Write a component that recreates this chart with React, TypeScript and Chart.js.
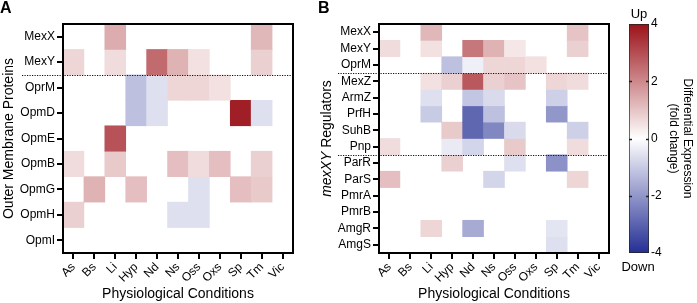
import React, { useEffect, useRef } from 'react';
import { Chart, registerables } from 'chart.js';

Chart.register(...registerables);

// ---------- data ----------
const conditions = ['As', 'Bs', 'Li', 'Hyp', 'Nd', 'Ns', 'Oss', 'Oxs', 'Sp', 'Tm', 'Vic'];
const xTitle = 'Physiological Conditions';

const rowsA = ['MexX', 'MexY', 'OprM', 'OpmD', 'OpmE', 'OpmB', 'OpmG', 'OpmH', 'OpmI'];
const rowsB = ['MexX', 'MexY', 'OprM', 'MexZ', 'ArmZ', 'PrfH', 'SuhB', 'Pnp', 'ParR', 'ParS', 'PmrA', 'PmrB', 'AmgR', 'AmgS'];

const _ = null;
// Panel A (columns follow `conditions`)
const aMexX = [_, _, 1.4, _, _, _, _, _, _, 1.2, _];
const aMexY = [0.7, _, 0.6, _, 2.5, 1.3, 0.5, _, _, 0.8, _];
const aOprM = [_, _, _, -1.2, -0.6, 0.7, 0.7, 0.5, _, _, _];
const aOpmD = [_, _, _, -1.2, -0.6, _, _, _, 3.8, -0.6, _];
const aOpmE = [_, _, 2.9, _, _, _, _, _, _, _, _];
const aOpmB = [0.6, _, 0.9, _, _, 1.1, 0.6, 1.1, _, 0.8, _];
const aOpmG = [_, 1.3, _, 1.1, _, _, -0.6, _, 1.1, 0.9, _];
const aOpmH = [0.8, _, _, _, _, -0.6, -0.6, _, _, _, _];
const aOpmI = [_, _, _, _, _, _, _, _, _, _, _];

// Panel B
const bMexX = [_, _, 1.2, _, _, _, _, _, _, 1.0, _];
const bMexY = [0.6, _, 0.5, _, 2.3, 1.3, 0.4, _, _, 0.8, _];
const bOprM = [_, _, _, -1.2, -0.3, 0.7, 0.7, 0.5, _, _, _];
const bMexZ = [_, _, 0.5, 0.8, 2.8, 0.8, 1.0, _, 0.7, 0.6, _];
const bArmZ = [_, _, -0.6, _, -1.1, -0.7, _, _, -0.9, _, _];
const bPrfH = [_, _, -1.0, _, -2.9, -1.2, _, _, -2.0, _, _];
const bSuhB = [_, _, _, 0.9, -2.9, -2.3, -0.7, _, _, -0.9, _];
const bPnp = [0.6, _, _, -0.4, -0.8, _, 0.9, _, _, 0.6, _];
const bParR = [_, _, _, 0.8, _, _, -0.6, _, -2.1, _, _];
const bParS = [1.1, _, _, _, _, -0.8, _, _, _, 0.7, _];
const bPmrA = [_, _, _, _, _, _, _, _, _, _, _];
const bPmrB = [_, _, _, _, _, _, _, _, _, _, _];
const bAmgR = [_, _, 0.7, _, -1.6, _, _, _, -0.5, _, _];
const bAmgS = [_, _, _, _, _, _, _, _, -0.6, _, _];

const valuesA = [aMexX, aMexY, aOprM, aOpmD, aOpmE, aOpmB, aOpmG, aOpmH, aOpmI];
const valuesB = [bMexX, bMexY, bOprM, bMexZ, bArmZ, bPrfH, bSuhB, bPnp, bParR, bParS, bPmrA, bPmrB, bAmgR, bAmgS];

// row boundaries marked by dotted separators
const separatorsA = [1.5];
const separatorsB = [2.5, 7.5];

// colour bar
const colorMin = -4;
const colorMax = 4;
const colorbarStep = 2;
const colorbarTitle = ['Differential Expression', '(fold change)'];
const upLabel = 'Up';
const downLabel = 'Down';

const titleA = [{ t: 'Outer Membrane Proteins', italic: false }];
const titleB = [{ t: 'mexXY', italic: true }, { t: ' Regulators', italic: false }];

// ---------- styling ----------
const FONT = '"Liberation Sans", Arial, Helvetica, sans-serif';
const RED = [155, 18, 25];
const BLUE = [36, 46, 148];

function colorFor(v: number | null): string {
  if (v == null) return 'rgba(0,0,0,0)';
  const t = Math.min(Math.abs(v) / colorMax, 1);
  const end = v >= 0 ? RED : BLUE;
  const c = end.map((e) => Math.round(255 + (e - 255) * t));
  return `rgb(${c[0]},${c[1]},${c[2]})`;
}

type Part = { t: string; italic: boolean };

function buildHeatmap(
  canvas: HTMLCanvasElement,
  rows: string[],
  values: (number | null)[][],
  separators: number[],
  titleParts: Part[],
  areaLeft: number,
  areaRight: number,
  titleX: number
) {
  const W = canvas.width;
  const plugin = {
    id: 'heatDecor',
    afterDraw(chart: any) {
      const { ctx, chartArea: a } = chart;
      const y = chart.scales.y;
      ctx.save();
      // dotted separators
      ctx.setLineDash([1.2, 1.3]);
      ctx.lineWidth = 1.2;
      ctx.strokeStyle = '#111';
      for (const s of separators) {
        const py = Math.round(y.getPixelForValue(s)) + 0.5;
        ctx.beginPath();
        ctx.moveTo(a.left - 41, py);
        ctx.lineTo(a.right, py);
        ctx.stroke();
      }
      ctx.setLineDash([]);
      // frame
      ctx.lineWidth = 2;
      ctx.strokeStyle = '#000';
      ctx.strokeRect(a.left, a.top, a.right - a.left, a.bottom - a.top);
      // y title (mixed fonts)
      ctx.translate(titleX, (a.top + a.bottom) / 2);
      ctx.rotate(-Math.PI / 2);
      ctx.textBaseline = 'middle';
      ctx.textAlign = 'left';
      ctx.fillStyle = '#000';
      const widths = titleParts.map((p) => {
        ctx.font = `${p.italic ? 'italic ' : ''}14px ${FONT}`;
        return ctx.measureText(p.t).width;
      });
      let x = -widths.reduce((s, w) => s + w, 0) / 2;
      titleParts.forEach((p, i) => {
        ctx.font = `${p.italic ? 'italic ' : ''}14px ${FONT}`;
        ctx.fillText(p.t, x, 0);
        x += widths[i];
      });
      ctx.restore();
    },
  };

  return new Chart(canvas, {
    type: 'bar',
    data: {
      labels: conditions,
      datasets: rows.map((name, r) => ({
        label: name,
        data: values[r].map((v) => (v == null ? null : [r - 0.5, r + 0.5])) as any,
        backgroundColor: values[r].map(colorFor),
        borderWidth: 0,
        barPercentage: 1,
        categoryPercentage: 1,
        grouped: false,
      })),
    },
    options: {
      responsive: false,
      animation: false,
      events: [],
      layout: { padding: { left: 0, right: W - areaRight, top: 24, bottom: 0 } },
      plugins: { legend: { display: false }, tooltip: { enabled: false } },
      scales: {
        x: {
          type: 'category',
          offset: true,
          grid: { offset: false, drawOnChartArea: false, drawTicks: true, tickLength: 6, color: '#000', lineWidth: 2 },
          border: { display: true, color: '#000', width: 2 },
          ticks: {
            color: '#000',
            font: { family: FONT, size: 12 },
            minRotation: 45,
            maxRotation: 45,
            padding: 1,
            autoSkip: false,
          },
          title: {
            display: true,
            text: xTitle,
            color: '#000',
            font: { family: FONT, size: 14 },
            padding: { top: 0, bottom: 0 },
          },
          afterFit: (s: any) => {
            s.height = 50;
          },
        },
        y: {
          type: 'linear',
          reverse: true,
          min: -0.5,
          max: rows.length - 0.5,
          afterBuildTicks: (s: any) => {
            s.ticks = rows.map((_n, i) => ({ value: i }));
          },
          ticks: {
            color: '#000',
            font: { family: FONT, size: 12 },
            padding: 2,
            autoSkip: false,
            callback: (v: any) => rows[v as number] ?? '',
          },
          grid: { drawOnChartArea: false, drawTicks: true, tickLength: 6, color: '#000', lineWidth: 2 },
          border: { display: true, color: '#000', width: 2 },
          afterFit: (s: any) => {
            s.width = areaLeft;
          },
        },
      },
    } as any,
    plugins: [plugin],
  });
}

function buildColorbar(canvas: HTMLCanvasElement) {
  const W = canvas.width;
  const areaLeft = 14;
  const areaRight = 34;
  const plugin = {
    id: 'cbarDecor',
    afterDraw(chart: any) {
      const { ctx, chartArea: a } = chart;
      const y = chart.scales.y;
      ctx.save();
      ctx.strokeStyle = '#222';
      ctx.lineWidth = 1.5;
      for (const t of y.ticks) {
        const v = t.value;
        if (v === colorMin || v === colorMax) continue;
        const py = Math.round(y.getPixelForValue(v)) + 0.5;
        ctx.beginPath();
        ctx.moveTo(a.left, py);
        ctx.lineTo(a.left + 3, py);
        ctx.moveTo(a.right - 3, py);
        ctx.lineTo(a.right, py);
        ctx.stroke();
      }
      ctx.fillStyle = '#000';
      ctx.font = `13px ${FONT}`;
      ctx.textAlign = 'center';
      ctx.textBaseline = 'middle';
      const cx = (a.left + a.right) / 2;
      ctx.fillText(upLabel, cx, a.top - 10);
      ctx.fillText(downLabel, cx - 1, a.bottom + 14);
      ctx.restore();
    },
  };

  return new Chart(canvas, {
    type: 'bar',
    data: {
      labels: [''],
      datasets: [
        {
          data: [[colorMin, colorMax]] as any,
          backgroundColor: (c: any) => {
            const chart = c.chart;
            if (!chart.chartArea) return '#fff';
            const y = chart.scales.y;
            const g = chart.ctx.createLinearGradient(0, y.getPixelForValue(colorMin), 0, y.getPixelForValue(colorMax));
            g.addColorStop(0, colorFor(colorMin));
            g.addColorStop(0.5, colorFor(0));
            g.addColorStop(1, colorFor(colorMax));
            return g;
          },
          borderColor: '#222',
          borderWidth: 1,
          borderSkipped: false,
          barPercentage: 1,
          categoryPercentage: 1,
        },
      ],
    },
    options: {
      responsive: false,
      animation: false,
      events: [],
      layout: { padding: { left: areaLeft, right: 0, top: 24, bottom: 50 } },
      plugins: { legend: { display: false }, tooltip: { enabled: false } },
      scales: {
        x: { display: false },
        y: {
          position: 'right',
          min: colorMin,
          max: colorMax,
          ticks: { stepSize: colorbarStep, color: '#000', font: { family: FONT, size: 12 }, padding: 2 },
          grid: { display: false, drawTicks: false },
          border: { display: false },
          title: {
            display: true,
            text: colorbarTitle,
            color: '#000',
            font: { family: FONT, size: 12 },
            padding: { top: 2, bottom: 0 },
          },
          afterFit: (s: any) => {
            s.width = W - areaRight;
          },
        },
      },
    } as any,
    plugins: [plugin],
  });
}

export default function App() {
  const refA = useRef<HTMLCanvasElement>(null);
  const refB = useRef<HTMLCanvasElement>(null);
  const refC = useRef<HTMLCanvasElement>(null);

  useEffect(() => {
    const charts = [
      buildHeatmap(refA.current!, rowsA, valuesA, separatorsA, titleA, 63, 293, 9),
      buildHeatmap(refB.current!, rowsB, valuesB, separatorsB, titleB, 59, 289, 7),
      buildColorbar(refC.current!),
    ];
    return () => charts.forEach((c) => c.destroy());
  }, []);

  const letter: React.CSSProperties = {
    position: 'absolute',
    top: 0,
    fontFamily: FONT,
    fontWeight: 'bold',
    fontSize: 16,
    lineHeight: '16px',
    color: '#000',
  };

  return (
    <div style={{ position: 'fixed', left: 0, top: 0, width: 697, height: 303, background: '#fff' }}>
      <canvas ref={refA} width={320} height={303} style={{ position: 'absolute', left: 0, top: 0 }} />
      <canvas ref={refB} width={295} height={303} style={{ position: 'absolute', left: 320, top: 0 }} />
      <canvas ref={refC} width={82} height={303} style={{ position: 'absolute', left: 615, top: 0 }} />
      <div style={{ ...letter, left: 0 }}>A</div>
      <div style={{ ...letter, left: 318 }}>B</div>
    </div>
  );
}
